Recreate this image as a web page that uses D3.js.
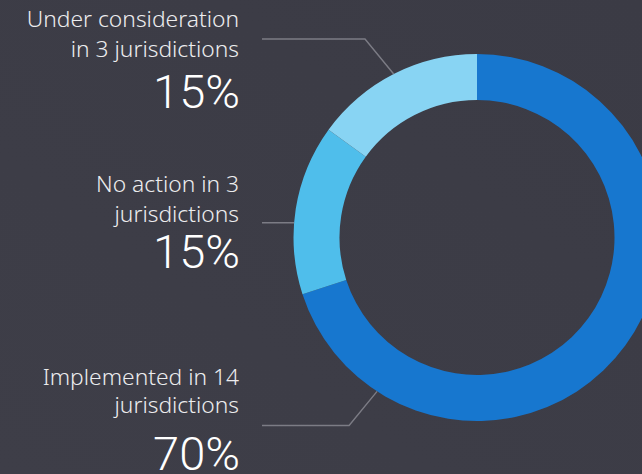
<!DOCTYPE html>
<html>
<head>
<meta charset="utf-8">
<script src="https://cdn.jsdelivr.net/npm/d3@7"></script>
<style>
  html, body { margin: 0; padding: 0; background: #3c3c46; }
  svg { display: block; }
</style>
</head>
<body>
<div id="chart"></div>
<script>
// data
var categories = ["Implemented in 14 jurisdictions", "No action in 3 jurisdictions", "Under consideration in 3 jurisdictions"];
var values = [70, 15, 15];
var labelLines = [
  ["Implemented in 14", "jurisdictions"],
  ["No action in 3", "jurisdictions"],
  ["Under consideration", "in 3 jurisdictions"]
];
var colors = ["#1777cf", "#4fbeeb", "#88d4f3"];

var width = 642, height = 474;
var cx = 477, cy = 237.5;
var outerR = 183.5, innerR = 137.5;

var svg = d3.select("#chart")
    .append("svg")
    .attr("width", width)
    .attr("height", height);

// subtle background gradient
var defs = svg.append("defs");
var grad = defs.append("linearGradient")
    .attr("id", "bg")
    .attr("x1", "0").attr("y1", "1").attr("x2", "1").attr("y2", "0");
grad.append("stop").attr("offset", "0").attr("stop-color", "#3e3e48");
grad.append("stop").attr("offset", "1").attr("stop-color", "#3b3b45");
svg.append("rect").attr("width", width).attr("height", height).attr("fill", "url(#bg)");

var pie = d3.pie().sort(null).value(function(d) { return d; });
var arc = d3.arc().innerRadius(innerR).outerRadius(outerR);
var arcs = pie(values);

var g = svg.append("g").attr("transform", "translate(" + cx + "," + cy + ")");
g.selectAll("path.slice")
    .data(arcs)
    .enter().append("path")
    .attr("class", "slice")
    .attr("d", arc)
    .attr("fill", function(d, i) { return colors[i]; });

// label layout: baselines of the two label lines and the percent, leader y, leader end angle
var textX = 239;
var layout = [
  {y1: 385, y2: 413, yp: 470, ly: 425.5, ang: 213},
  {y1: 192, y2: 222, yp: 268, ly: 222.7, ang: null},
  {y1: 27, y2: 57, yp: 108, ly: 39, ang: 333}
];

var leader = d3.line();
layout.forEach(function(L, i) {
  var pts;
  if (L.ang === null) {
    var dy = L.ly - cy;
    var xEdge = cx - Math.sqrt(outerR * outerR - dy * dy);
    pts = [[262, L.ly], [xEdge, L.ly]];
  } else {
    var a = L.ang * Math.PI / 180;
    var ex = cx + outerR * Math.sin(a), ey = cy - outerR * Math.cos(a);
    var kx = ex - Math.abs(ey - L.ly) * 0.82;
    pts = [[262, L.ly], [kx, L.ly], [ex, ey]];
  }
  svg.append("path")
      .attr("d", leader(pts))
      .attr("fill", "none")
      .attr("stroke", "#7c7c85")
      .attr("stroke-width", 1.4);

  var t = svg.append("g").attr("text-anchor", "end");
  t.append("text")
      .attr("x", textX).attr("y", L.y1)
      .attr("font-family", "'Noto Sans', sans-serif")
      .attr("font-weight", 300)
      .attr("font-size", 22.8)
      .attr("fill", "#ececee")
      .text(labelLines[i][0]);
  t.append("text")
      .attr("x", textX).attr("y", L.y2)
      .attr("font-family", "'Noto Sans', sans-serif")
      .attr("font-weight", 300)
      .attr("font-size", 22.8)
      .attr("fill", "#ececee")
      .text(labelLines[i][1]);
  t.append("text")
      .attr("x", textX + 1).attr("y", L.yp)
      .attr("font-family", "Roboto, sans-serif")
      .attr("font-weight", 300)
      .attr("font-size", 47)
      .attr("fill", "#ffffff")
      .text(values[i] + "%");
});
</script>
</body>
</html>
